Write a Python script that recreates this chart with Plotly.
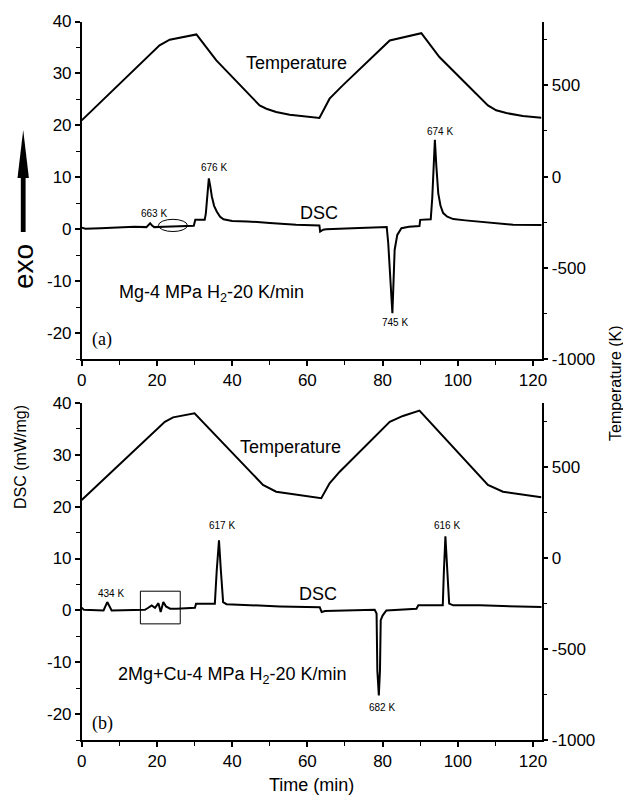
import plotly.graph_objects as go

# ---------------- data ----------------
# panel (a): Mg
temp_a_t = [0, 20.7, 23.4, 27.0, 30.5, 35.8, 47.3, 49.1, 51.7, 55.3, 63.2,
            65.9, 69.4, 81.9, 85.4, 90.3, 95.1, 108.0, 110.2, 112.9, 117.3, 122.2]
temp_a_K = [308, 719, 750, 764, 779, 637, 390, 372, 354, 339, 321,
            427, 500, 746, 764, 786, 655, 390, 363, 348, 332, 323]

dsc_a_t = [0, 1, 5, 10, 14, 17.2, 17.8, 18.2, 18.7, 19.3, 22, 26, 29.8, 30.2,
           32.7, 33.0, 33.4, 33.8, 34.2, 34.6, 35.2, 35.9, 36.8, 37.7, 40, 44,
           50, 57, 63.2, 63.4, 64.2, 65, 72, 81.1, 81.5, 82.2, 82.6, 82.8, 83.2,
           83.9, 85.0, 87, 89.8, 90.0, 92.8, 93.2, 93.6, 93.9, 94.3, 94.8, 95.4,
           96.1, 97.2, 98.8, 102, 105.9, 110, 114.7, 122.3]
dsc_a_v = [0.3, 0.1, 0.2, 0.35, 0.45, 0.4, 0.8, 1.15, 0.7, 0.4, 0.45, 0.55, 0.65, 1.8,
           1.8, 3.0, 7.0, 9.8, 8.2, 6.3, 4.5, 3.4, 2.4, 1.9, 1.6, 1.5,
           1.2, 0.85, 0.7, -0.45, -0.1, 0.0, 0.2, 0.4, -2.7, -12.3, -16.2, -12.3, -4.0,
           -1.1, 0.2, 0.45, 0.6, 1.8, 1.9, 6.0, 13.0, 17.2, 12.0, 6.9, 4.5,
           3.1, 2.4, 1.95, 1.7, 1.47, 1.1, 0.85, 0.8]

# panel (b): 2Mg+Cu
temp_b_t = [0, 22.1, 24.3, 30.0, 48.2, 51.7, 63.7,
            65.9, 68.6, 81.9, 85.4, 89.8, 108.0, 112.0, 122.2]
temp_b_K = [318, 747, 771, 793, 400, 363, 327,
            409, 473, 747, 779, 808, 400, 363, 332]

dsc_b_t = [0, 0.6, 5.8, 6.8, 7.96, 14.6, 16.8, 17.7, 18.6, 19.5, 20.4, 21.0, 21.7,
           22.4, 23.5, 25.2, 30.1, 30.4, 35.4, 35.9, 36.5, 37.0, 37.6, 38.5, 52.7,
           63.3, 63.8, 64.7, 77.9, 78.4, 78.6, 79.0, 79.3, 79.5, 80.0, 81.0, 89.0,
           89.5, 96.0, 96.3, 96.7, 97.2, 97.7, 98.8, 105.9, 122.3]
dsc_b_v = [0.5, 0.1, 0.0, 1.6, 0.0, 0.0, 0.1, 0.5, 0.97, 0.5, 1.4, -0.3, 1.6,
           0.77, 0.32, 0.32, 0.5, 1.3, 1.3, 7.7, 13.5, 7.7, 1.6, 1.2, 0.77,
           0.6, -0.32, -0.13, 0.13, -0.6, -11.6, -16.4, -11.6, -1.9, -1.0, 0.0, 0.32,
           0.97, 0.97, 7.7, 14.3, 7.7, 1.3, 0.97, 0.97, 0.64]

peak_labels_a = ["663 K", "676 K", "745 K", "674 K"]
peak_labels_b = ["434 K", "617 K", "682 K", "616 K"]
y_ticks = [-20, -10, 0, 10, 20, 30, 40]
t_ticks = [-1000, -500, 0, 500]
x_ticks = [0, 20, 40, 60, 80, 100, 120]

# ---------------- figure ----------------
PAGE_W, PAGE_H = 631, 802
OFF = 8  # default page body margin
W, H = PAGE_W - OFF, PAGE_H - OFF
FONT = "Liberation Sans, Arial, sans-serif"
SERIF = "Liberation Serif, Times New Roman, serif"


def px(x):
    return (x - OFF) / W


def py(y):
    return 1 - (y - OFF) / H


xdom = [px(81.7), px(541.7)]
ydom_a = [py(359), py(21.5)]
ydom_b = [py(740), py(403)]

fig = go.Figure()
line = dict(color="black", width=2)
fig.add_trace(go.Scatter(x=temp_a_t, y=temp_a_K, mode="lines", line=line, xaxis="x", yaxis="y2"))
fig.add_trace(go.Scatter(x=dsc_a_t, y=dsc_a_v, mode="lines", line=line, xaxis="x", yaxis="y"))
fig.add_trace(go.Scatter(x=temp_b_t, y=temp_b_K, mode="lines", line=line, xaxis="x3", yaxis="y4"))
fig.add_trace(go.Scatter(x=dsc_b_t, y=dsc_b_v, mode="lines", line=line, xaxis="x3", yaxis="y3"))

tickfont = dict(family=FONT, size=17, color="black")
xr = [0, 122.3]


def xaxis_bottom(anchor):
    return dict(domain=xdom, range=xr, anchor=anchor, showline=True, linecolor="black",
                linewidth=1.5, ticks="outside", ticklen=5, tickwidth=1.5, tickcolor="black",
                tickvals=x_ticks, ticktext=[str(v) for v in x_ticks], tickfont=tickfont,
                minor=dict(ticks="outside", dtick=10, tick0=0, ticklen=4, tickwidth=1.2, tickcolor="black"),
                showgrid=False, zeroline=False, automargin=False)


def xaxis_top(over, anchor):
    return dict(overlaying=over, anchor=anchor, side="top", range=xr, showline=True,
                linecolor="black", linewidth=1.5, ticks="inside", ticklen=5, tickwidth=1.2,
                tickcolor="black", dtick=10, tick0=0, showticklabels=False, showgrid=False,
                zeroline=False, automargin=False)


def yaxis_left(dom, anchor):
    return dict(domain=dom, range=[-25, 40], anchor=anchor, showline=True, linecolor="black",
                linewidth=1.5, ticks="outside", ticklen=5, tickwidth=1.5, tickcolor="black",
                tickvals=y_ticks, ticktext=[str(v) for v in y_ticks], tickfont=tickfont,
                minor=dict(ticks="outside", dtick=5, tick0=0, ticklen=4, tickwidth=1.2, tickcolor="black"),
                showgrid=False, zeroline=False, automargin=False)


def yaxis_right(over, anchor):
    return dict(overlaying=over, anchor=anchor, side="right", range=[-1000, 850], showline=True,
                linecolor="black", linewidth=1.5, ticks="outside", ticklen=5, tickwidth=1.5,
                tickcolor="black", tickvals=t_ticks, ticktext=[str(v) for v in t_ticks],
                tickfont=tickfont,
                minor=dict(ticks="outside", dtick=250, tick0=0, ticklen=4, tickwidth=1.2, tickcolor="black"),
                showgrid=False, zeroline=False, automargin=False)


fig.update_layout(
    width=W, height=H, margin=dict(l=0, r=0, t=0, b=0, autoexpand=False), showlegend=False,
    paper_bgcolor="white", plot_bgcolor="white",
    xaxis=xaxis_bottom("y"), xaxis2=xaxis_top("x", "y"),
    yaxis=yaxis_left(ydom_a, "x"), yaxis2=yaxis_right("y", "x"),
    xaxis3=xaxis_bottom("y3"), xaxis4=xaxis_top("x3", "y3"),
    yaxis3=yaxis_left(ydom_b, "x3"), yaxis4=yaxis_right("y3", "x3"),
)

ann = []


def txt(text, x, y, xref, yref, size, family=FONT, angle=0):
    ann.append(dict(text=text, x=x, y=y, xref=xref, yref=yref, showarrow=False,
                    xanchor="center", yanchor="middle", textangle=angle,
                    font=dict(family=family, size=size, color="black")))


# panel (a)
txt(peak_labels_a[0], 19.2, 2.95, "x", "y", 10)
txt(peak_labels_a[1], 35.2, 11.8, "x", "y", 10)
txt(peak_labels_a[2], 83.3, -17.9, "x", "y", 10)
txt(peak_labels_a[3], 95.2, 18.8, "x", "y", 10)
txt("DSC", 63.1, 3.1, "x", "y", 18)
txt("Temperature", 57.0, 32.0, "x", "y", 18)
txt("Mg-4 MPa H<sub>2</sub>-20 K/min", 34.4, -12.3, "x", "y", 18)
txt("(a)", 5.3, -21.3, "x", "y", 18, SERIF)
# panel (b)
txt(peak_labels_b[0], 7.8, 3.3, "x3", "y3", 10)
txt(peak_labels_b[1], 37.3, 16.4, "x3", "y3", 10)
txt(peak_labels_b[2], 79.8, -18.7, "x3", "y3", 10)
txt(peak_labels_b[3], 97.1, 16.4, "x3", "y3", 10)
txt("DSC", 62.8, 3.1, "x3", "y3", 18)
txt("Temperature", 55.4, 31.5, "x3", "y3", 18)
txt("2Mg+Cu-4 MPa H<sub>2</sub>-20 K/min", 40.2, -12.5, "x3", "y3", 18)
txt("(b)", 5.5, -21.8, "x3", "y3", 18, SERIF)
# axis titles
txt("Time (min)", px(311), py(785), "paper", "paper", 18)
txt("DSC (mW/mg)", px(20), py(457), "paper", "paper", 16, angle=-90)
txt("Temperature (K)", px(615), py(383), "paper", "paper", 16, angle=-90)
txt("exo", px(23), py(267), "paper", "paper", 28, angle=-90)
fig.update_layout(annotations=ann)

shapes = [
    dict(type="circle", xref="x", yref="y", x0=20.4, x1=28.1, y0=-0.45, y1=1.9,
         line=dict(color="black", width=1)),
    dict(type="rect", xref="x3", yref="y3", x0=15.6, x1=26.2, y0=-2.6, y1=3.7,
         line=dict(color="black", width=1)),
    # exo arrow
    dict(type="rect", xref="paper", yref="paper", x0=px(20.8), x1=px(25.6), y0=py(232), y1=py(176),
         fillcolor="black", line=dict(width=0)),
    dict(type="path", xref="paper", yref="paper",
         path=f"M {px(23.2)} {py(130)} L {px(17.5)} {py(178)} L {px(28.9)} {py(178)} Z",
         fillcolor="black", line=dict(width=0)),
]
fig.update_layout(shapes=shapes)

fig.write_html("out.html")
